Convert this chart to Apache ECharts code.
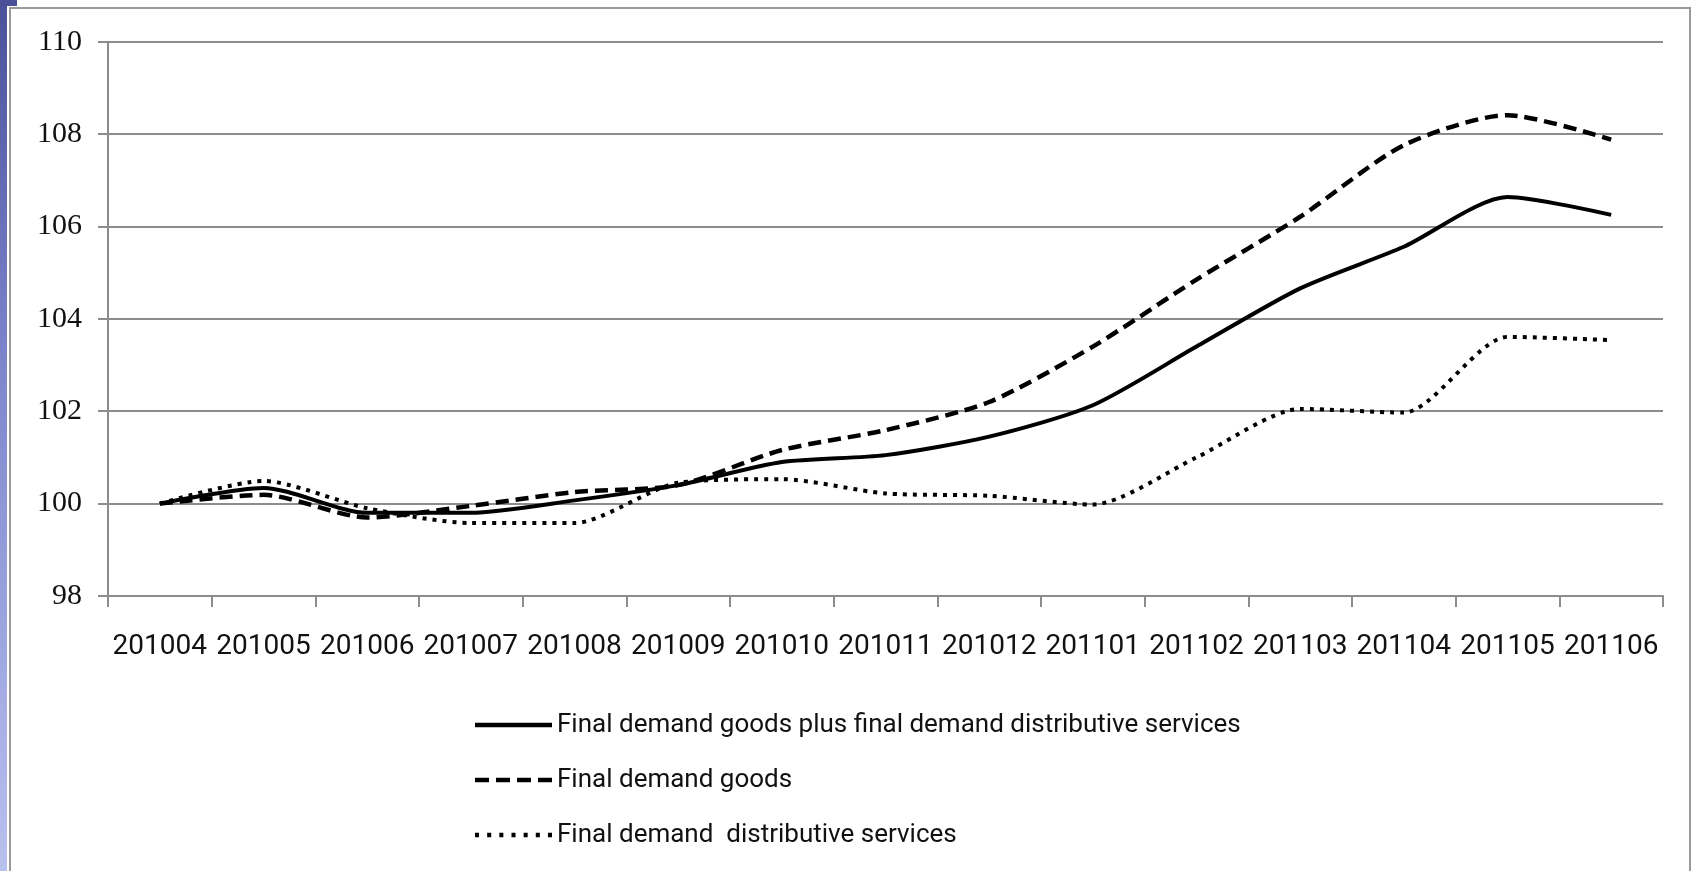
<!DOCTYPE html>
<html>
<head>
<meta charset="utf-8">
<script src="https://cdn.jsdelivr.net/npm/echarts@6/dist/echarts.min.js"></script>
<style>
  html, body { margin: 0; padding: 0; background: #ffffff; }
  #wrap { position: relative; width: 1698px; height: 871px; overflow: hidden; background: #fff; }
  #strip { position: absolute; left: 0; top: 0; width: 7px; height: 871px;
           background: linear-gradient(to bottom, #4a5199 0%, #8189cf 45%, #b9c1ef 100%); }
  #corner { position: absolute; left: 0; top: 0; width: 17px; height: 6px; background: #4a5199; }
  #frame { position: absolute; left: 9px; top: 7px; width: 1682px; height: 880px;
           border: 2px solid #9a9a9a; box-sizing: border-box; }
  #chart { position: absolute; left: 0; top: 0; width: 1698px; height: 871px; }
</style>
</head>
<body>
<div id="wrap">
  <div id="strip"></div>
  <div id="corner"></div>
  <div id="frame"></div>
  <div id="chart"></div>
</div>
<script>
const categories = ['201004','201005','201006','201007','201008','201009','201010','201011','201012','201101','201102','201103','201104','201105','201106'];
const goodsPlusServices = [100, 100.34, 99.8, 99.8, 100.07, 100.4, 100.9, 101.05, 101.45, 102.13, 103.4, 104.66, 105.56, 106.64, 106.25];
const goods = [100, 100.19, 99.7, 99.95, 100.25, 100.4, 101.16, 101.59, 102.2, 103.4, 104.85, 106.21, 107.76, 108.41, 107.88];
const distributiveServices = [100, 100.49, 99.9, 99.58, 99.58, 100.45, 100.53, 100.22, 100.17, 99.98, 101.0, 102.05, 101.97, 103.61, 103.54];
const seriesNames = ['Final demand goods plus final demand distributive services', 'Final demand goods', 'Final demand  distributive services'];
const yTicks = { min: 98, max: 110, interval: 2 };

// legend sample icons (solid, dashed, dotted bars)
const iconSolid = 'path://M0,0h77v4h-77z';
const iconDashed = 'path://M0,0h14v4h-14zM21,0h14v4h-14zM42,0h14v4h-14zM63,0h14v4h-14z';
const iconDotted = 'path://M0,0h4v4h-4zM12,0h4v4h-4zM24,0h4v4h-4zM36,0h4v4h-4zM48,0h4v4h-4zM60,0h4v4h-4zM72,0h4v4h-4z';

const chart = echarts.init(document.getElementById('chart'), null, { renderer: 'canvas' });
const gray = '#8c8c8c';
chart.setOption({
  backgroundColor: 'transparent',
  animation: false,
  grid: { left: 108, right: 35, top: 41.7, bottom: 275, containLabel: false },
  legend: {
    orient: 'vertical',
    left: 470,
    top: 707,
    itemWidth: 77,
    itemHeight: 4.5,
    itemGap: 29,
    symbolKeepAspect: false,
    itemStyle: { color: '#000', borderWidth: 0 },
    textStyle: { fontFamily: 'Roboto', fontSize: 26, color: '#111', lineHeight: 26 },
    data: [
      { name: seriesNames[0], icon: iconSolid },
      { name: seriesNames[1], icon: iconDashed },
      { name: seriesNames[2], icon: iconDotted }
    ]
  },
  xAxis: {
    type: 'category',
    data: categories,
    boundaryGap: true,
    axisLine: { show: true, lineStyle: { color: gray, width: 2 } },
    axisTick: { show: true, length: 11, inside: false, alignWithLabel: false, lineStyle: { color: gray, width: 2 } },
    axisLabel: { interval: 0, margin: 37, color: '#111', fontFamily: 'Roboto', fontSize: 28, lineHeight: 28 },
    splitLine: { show: false }
  },
  yAxis: {
    type: 'value',
    min: yTicks.min, max: yTicks.max, interval: yTicks.interval,
    axisLine: { show: true, lineStyle: { color: gray, width: 2 } },
    axisTick: { show: true, length: 10, inside: false, lineStyle: { color: gray, width: 2 } },
    axisLabel: { margin: 26, color: '#111', fontFamily: 'Liberation Serif', fontSize: 30 },
    splitLine: { show: true, lineStyle: { color: gray, width: 2 } }
  },
  series: [
    { name: seriesNames[0], type: 'line', data: goodsPlusServices, smooth: 0.25, symbol: 'none',
      lineStyle: { color: '#000', width: 4, type: 'solid' }, itemStyle: { color: '#000' } },
    { name: seriesNames[1], type: 'line', data: goods, smooth: 0.25, symbol: 'none',
      lineStyle: { color: '#000', width: 4.5, type: [13, 7] }, itemStyle: { color: '#000' } },
    { name: seriesNames[2], type: 'line', data: distributiveServices, smooth: 0.25, symbol: 'none',
      lineStyle: { color: '#000', width: 4, type: [4, 6] }, itemStyle: { color: '#000' } }
  ]
});
</script>
</body>
</html>
